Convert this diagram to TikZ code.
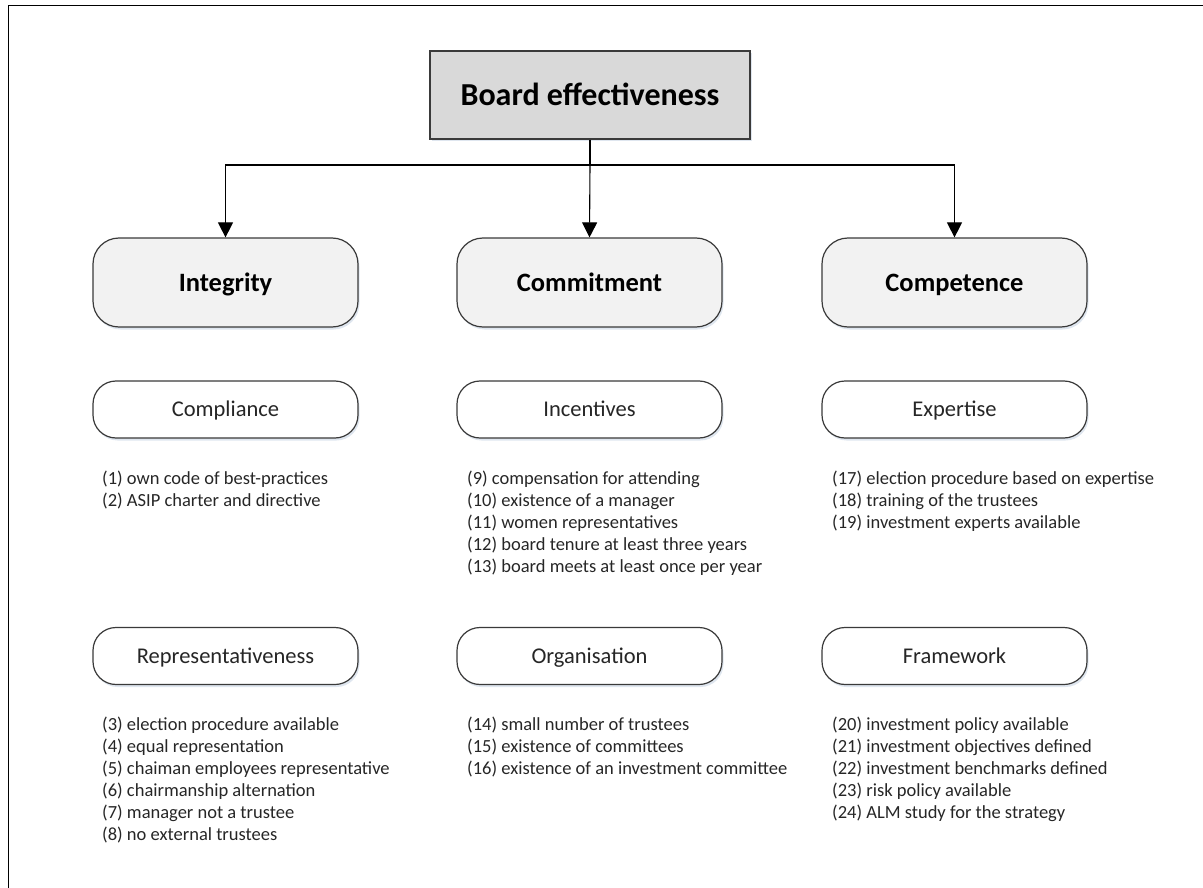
\documentclass[tikz,border=0pt]{standalone}
\usepackage{fontspec}
\setmainfont{Carlito}
\usetikzlibrary{arrows.meta,shadows}
\definecolor{edge}{HTML}{3A3A3A}
\definecolor{topfill}{HTML}{D9D9D9}
\definecolor{dimfill}{HTML}{F2F2F2}
\definecolor{txt}{HTML}{262626}
\definecolor{shade}{HTML}{B8C8DC}
\begin{document}
\begin{tikzpicture}[x=1pt,y=-1pt,
  soft/.style={drop shadow={shadow xshift=1.5pt,shadow yshift=-2.5pt,fill=shade,opacity=0.45}},
  caps/.style={text height=#1,text depth=0pt},
  rootbox/.style={draw=edge,line width=1.3pt,fill=topfill,soft,minimum width=320pt,minimum height=88pt,
    inner sep=0pt,caps=20.6pt,font=\fontsize{32}{38}\selectfont\bfseries},
  dimbox/.style={draw=edge,line width=1.2pt,fill=dimfill,soft,rounded corners=26pt,minimum width=265pt,
    minimum height=89pt,inner sep=0pt,caps=17.1pt,font=\fontsize{26.5}{32}\selectfont\bfseries},
  subbox/.style={draw=edge,line width=1.2pt,fill=white,soft,rounded corners=23pt,minimum width=265pt,
    minimum height=57pt,inner sep=0pt,caps=14.5pt,text=txt,font=\fontsize{22.5}{27}\selectfont},
  item/.style={anchor=base west,inner sep=0pt,text=txt,font=\fontsize{18.5}{22}\selectfont},
  link/.style={draw=black,line width=1.1pt},
  arr/.style={link,-{Triangle[length=15pt,width=15pt]}}]
\useasboundingbox (0,0) rectangle (1203,888);
% outer frame
\draw[line width=1.6pt] (8.5,888) -- (8.5,5.5) -- (1203,5.5);

% root and the three dimensions
\node[rootbox] (root) at (590,95) {Board effectiveness};
\node[dimbox] (integ) at (225.5,282.5) {Integrity};
\node[dimbox] (commit) at (589.5,282.5) {Commitment};
\node[dimbox] (compet) at (954.5,282.5) {Competence};

% connectors
\coordinate (fork) at (590,165);
\draw[link] (root.south) -- (fork);
\draw[arr] (fork) -| (integ.north);
\draw[arr] (fork) -- (commit.north);
\draw[arr] (fork) -| (compet.north);

% sub-dimensions
\node[subbox] (compl) at (225.5,409.5) {Compliance};
\node[subbox] (incent) at (589.5,409.5) {Incentives};
\node[subbox] (expert) at (954.5,409.5) {Expertise};
\node[subbox] (repres) at (225.5,656) {Representativeness};
\node[subbox] (organ) at (589.5,656) {Organisation};
\node[subbox] (frame) at (954.5,656) {Framework};

% indicator lists, one line per node
\foreach [count=\i] \t in {{(1) own code of best-practices},{(2) ASIP charter and directive}}
  \node[item] (a\i) at (102,{484+22*(\i-1)}) {\t};
\foreach [count=\i] \t in {{(9) compensation for attending},{(10) existence of a manager},
    {(11) women representatives},{(12) board tenure at least three years},
    {(13) board meets at least once per year}}
  \node[item] (b\i) at (467,{484+22*(\i-1)}) {\t};
\foreach [count=\i] \t in {{(17) election procedure based on expertise},{(18) training of the trustees},
    {(19) investment experts available}}
  \node[item] (c\i) at (832,{484+22*(\i-1)}) {\t};
\foreach [count=\i] \t in {{(3) election procedure available},{(4) equal representation},
    {(5) chaiman employees representative},{(6) chairmanship alternation},
    {(7) manager not a trustee},{(8) no external trustees}}
  \node[item] (d\i) at (102,{730+22*(\i-1)}) {\t};
\foreach [count=\i] \t in {{(14) small number of trustees},{(15) existence of committees},
    {(16) existence of an investment committee}}
  \node[item] (e\i) at (467,{730+22*(\i-1)}) {\t};
\foreach [count=\i] \t in {{(20) investment policy available},{(21) investment objectives defined},
    {(22) investment benchmarks defined},{(23) risk policy available},
    {(24) ALM study for the strategy}}
  \node[item] (f\i) at (832,{730+22*(\i-1)}) {\t};
\end{tikzpicture}
\end{document}
